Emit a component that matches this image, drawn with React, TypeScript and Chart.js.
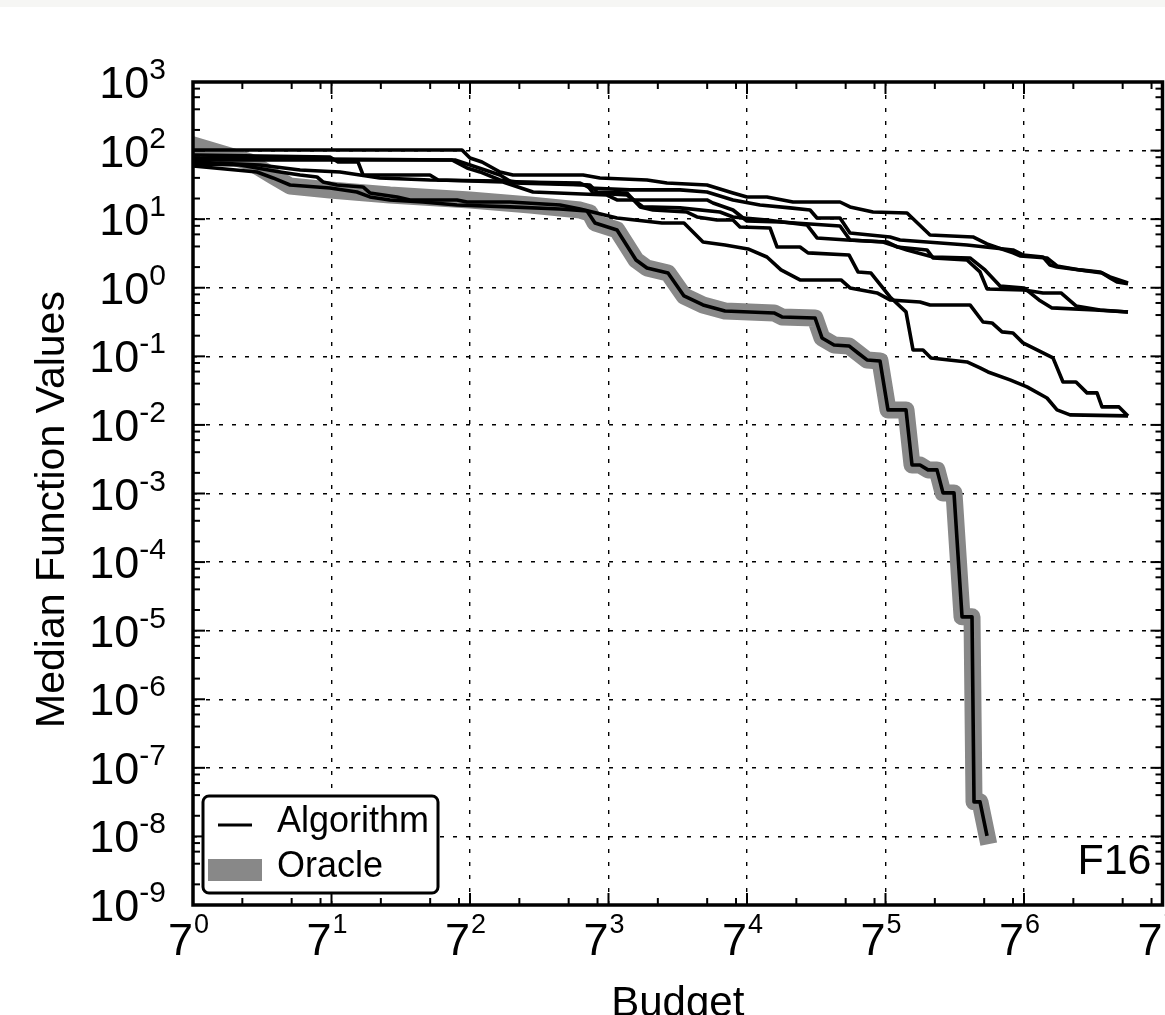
import React, { useEffect, useRef } from "react";
import { Chart, registerables } from "chart.js";

Chart.register(...registerables);

const FONT = "'Liberation Sans', Arial, Helvetica, sans-serif";

// ---------------- data (budget = function evaluations, value = median f) ----------------
const algoABudget = [1, 43.8, 49.0, 58.0, 74.7, 89.7, 240, 304, 589, 780, 1368, 1972, 2400, 3177, 4581, 8872, 10210, 14100, 22750, 31410, 57430, 69980, 100800, 111200, 162500, 187100, 258300, 352200, 393900, 434500, 507200];
const algoAValue = [102, 102, 78.0, 68.2, 48.8, 44.1, 44.1, 39.9, 37.3, 33.7, 31.5, 24.1, 21.1, 21.1, 17.8, 17.8, 15.1, 12.7, 12.3, 5.88, 5.5, 4.35, 3.22, 2.91, 2.72, 2.08, 1.82, 1.64, 1.39, 1.21, 1.14];

const algoBBudget = [1, 38.0, 47.0, 56.4, 74.7, 94.8, 230, 264, 464, 937, 1368, 1972, 2882, 4395, 5821, 6420, 8872, 10210, 17910, 20610, 30110, 52820, 100800, 116000, 153700, 169500, 187100, 258300, 342200, 393900, 507200];
const algoBValue = [72.9, 72.9, 55.8, 48.8, 37.3, 34.9, 33.7, 28.5, 26.7, 26.7, 24.9, 19.05, 16.1, 14.6, 13.6, 10.4, 10.4, 6.29, 5.5, 4.98, 4.65, 4.21, 3.56, 3.01, 2.81, 2.15, 2.01, 1.82, 1.7, 1.44, 1.17];

const algoCBudget = [1, 6.85, 7.67, 10.16, 10.9, 27.9, 31.3, 77.9, 118.8, 335.8, 386.6, 1368, 1489, 1972, 2400, 3817, 8872, 10210, 16230, 22750, 32760, 55090, 68020, 84010, 117700, 145200, 174300, 319000, 507200];
const algoCValue = [86.3, 80.7, 68.2, 68.2, 44.1, 44.1, 37.3, 34.9, 24.9, 22.5, 19.05, 19.05, 17.2, 13.6, 9.41, 9.1, 7.96, 4.98, 4.65, 3.56, 2.81, 2.72, 1.82, 1.06, 0.993, 0.664, 0.508, 0.475, 0.444];

const algoDBudget = [1, 39.7, 49.0, 74.7, 89.7, 253.6, 275.9, 444.8, 557, 937, 1643, 1972, 3177, 5579, 6420, 9786, 17160, 19760, 30110, 32760, 52820, 63410, 69980, 117700, 153700, 197900, 244300, 342200, 507200];
const algoDValue = [78.0, 72.9, 61.7, 44.1, 33.7, 31.5, 24.1, 22.5, 15.1, 14.6, 12.7, 10.77, 9.73, 8.23, 5.32, 4.98, 4.65, 3.93, 3.56, 2.72, 2.54, 1.7, 0.961, 0.929, 0.84, 0.84, 0.543, 0.475, 0.444];

const algoEBudget = [1, 2.56, 4.5, 7.89, 13.8, 27.9, 74.7, 264, 291.9, 444.8, 534, 641, 1033, 1189, 1575, 1972, 2176, 3317, 3660, 5056, 5657, 10060, 11420, 13710, 15340, 17910, 22420, 24740, 28470, 31850, 52820, 63410, 70960, 96650, 122700, 162500, 187100, 224600, 507200];
const algoEValue = [68.2, 61.7, 52.1, 48.8, 39.9, 37.3, 36.1, 31.5, 24.9, 24.1, 15.1, 13.6, 12.7, 10.77, 9.73, 9.73, 7.7, 7.44, 3.93, 3.93, 3.22, 3.01, 1.7, 1.64, 1.17, 0.734, 0.444, 0.124, 0.124, 0.0948, 0.0829, 0.0678, 0.0592, 0.0453, 0.0358, 0.0247, 0.01655, 0.01399, 0.01353];

const algoFBudget = [1, 1.936, 2.458, 3.4, 4.5, 5.71, 6.21, 7.56, 10.9, 12.0, 17.6, 21.1, 40.8, 47.0, 86.0, 173.6, 230, 386.6, 727, 990.8, 1294, 1763, 2435, 3177, 3871, 5056, 8995, 10210, 14920, 17910, 27290, 31410, 55090, 66140, 75060, 86390, 100800, 116000, 153700, 176800, 203500, 244300, 285100, 328100, 352000, 447000, 507200];
const algoFValue = [63.8, 61.7, 55.8, 48.8, 44.1, 41.2, 34.9, 31.5, 29.5, 24.1, 21.1, 19.05, 19.05, 17.8, 17.8, 16.1, 14.1, 10.4, 8.8, 8.8, 4.65, 4.21, 3.68, 2.81, 1.82, 1.3, 1.3, 0.993, 0.84, 0.664, 0.621, 0.561, 0.561, 0.317, 0.307, 0.227, 0.219, 0.157, 0.112, 0.0948, 0.0423, 0.0423, 0.0293, 0.0293, 0.0183, 0.0183, 0.01353];

const algoGBudget = [1, 2.458, 3.077, 3.91, 6.85, 10.0, 12.0, 15.9, 25.3, 40.8, 86.0, 173.6, 253.6, 283.8, 386.6, 504.9, 589, 791.5, 990.8, 1294, 1763, 3509, 3926, 6243, 6887, 8152, 10060, 11420, 12960, 15560, 17410, 22420, 24390, 27290, 30530, 34650, 37710, 44000, 49260, 56670, 58290, 63410, 69980];
const algoGValue = [59.6, 48.8, 39.9, 31.5, 28.5, 24.9, 21.1, 19.05, 17.8, 16.1, 15.1, 14.1, 13.2, 8.8, 6.96, 2.54, 1.94, 1.64, 0.759, 0.561, 0.459, 0.429, 0.375, 0.363, 0.1855, 0.1466, 0.1418, 0.112, 0.0886, 0.0857, 0.01655, 0.01655, 0.00261, 0.00261, 0.00221, 0.00221, 0.00102, 0.00102, 1.59e-5, 1.59e-5, 3.19e-8, 3.19e-8, 1.02e-8];

const oracleBudget = [1, 2.227, 3.077, 3.91, 6.85, 15.9, 49.0, 113.9, 230, 264, 283.8, 386.6, 504.9, 589, 791.5, 990.8, 1294, 1763, 3509, 3926, 6243, 6887, 8152, 10060, 11420, 12960, 15560, 17410, 22420, 24390, 27290, 30530, 34650, 37710, 44000, 49260, 56670, 58290, 63410, 69980];
const oracleValue = [120.7, 68.2, 42.6, 30.4, 26.7, 22.5, 19.05, 16.1, 13.6, 12.3, 8.8, 6.96, 2.54, 1.94, 1.64, 0.759, 0.561, 0.459, 0.429, 0.375, 0.363, 0.1855, 0.1466, 0.1418, 0.112, 0.0886, 0.0857, 0.01655, 0.01655, 0.00261, 0.00261, 0.00221, 0.00221, 0.00102, 0.00102, 1.59e-5, 1.59e-5, 3.19e-8, 3.19e-8, 1.02e-8];

const algorithmSeries = [
  [algoABudget, algoAValue],
  [algoBBudget, algoBValue],
  [algoCBudget, algoCValue],
  [algoDBudget, algoDValue],
  [algoEBudget, algoEValue],
  [algoFBudget, algoFValue],
  [algoGBudget, algoGValue],
];

// ---------------- axes / text ----------------
const xBase = 7;
const xTickExponents = [0, 1, 2, 3, 4, 5, 6, 7];
const xMinorMultipliers = [2, 4, 6];
const yBase = 10;
const yTickExponents = [3, 2, 1, 0, -1, -2, -3, -4, -5, -6, -7, -8, -9];
const yMinorMultipliers = [2, 4, 6, 8];
const xAxisTitle = "Budget";
const yAxisTitle = "Median Function Values";
const panelLabel = "F16";
const algorithmLabel = "Algorithm";
const oracleLabel = "Oracle";

const BLACK = "#000000";
const GREY = "#888888";

const toPoints = (b: number[], v: number[]) => b.map((x, i) => ({ x, y: v[i] }));

const decorPlugin = {
  id: "decor",
  afterDatasetsDraw(chart: any) {
    const { ctx, chartArea: a, scales } = chart;
    const xs = scales.x;
    const ys = scales.y;
    const MAJOR = 12;
    const MINOR = 7;
    ctx.save();
    ctx.strokeStyle = BLACK;
    ctx.fillStyle = BLACK;
    ctx.lineCap = "butt";
    const seg = (x1: number, y1: number, x2: number, y2: number) => {
      ctx.beginPath();
      ctx.moveTo(x1, y1);
      ctx.lineTo(x2, y2);
      ctx.stroke();
    };
    ctx.lineWidth = 2;
    // x ticks
    xTickExponents.forEach((e) => {
      const v = Math.pow(xBase, e);
      const p = xs.getPixelForValue(v);
      seg(p, a.bottom, p, a.bottom - MAJOR);
      seg(p, a.top, p, a.top + MAJOR);
      xMinorMultipliers.forEach((m) => {
        const mv = m * v;
        if (mv >= xs.max) return;
        const q = xs.getPixelForValue(mv);
        seg(q, a.bottom, q, a.bottom - MINOR);
        seg(q, a.top, q, a.top + MINOR);
      });
    });
    // y ticks
    yTickExponents.forEach((e) => {
      const v = Math.pow(yBase, e);
      const p = ys.getPixelForValue(v);
      seg(a.left, p, a.left + MAJOR, p);
      seg(a.right, p, a.right - MAJOR, p);
      yMinorMultipliers.forEach((m) => {
        const mv = m * v;
        if (mv >= ys.max) return;
        const q = ys.getPixelForValue(mv);
        seg(a.left, q, a.left + MINOR, q);
        seg(a.right, q, a.right - MINOR, q);
      });
    });
    // frame
    ctx.lineWidth = 3.5;
    ctx.strokeRect(a.left, a.top, a.right - a.left, a.bottom - a.top);

    // tick labels
    const baseFont = `45px ${FONT}`;
    const yExpFont = `30px ${FONT}`;
    const xExpFont = `27px ${FONT}`;
    ctx.textAlign = "left";
    ctx.textBaseline = "alphabetic";
    yTickExponents.forEach((e) => {
      const p = ys.getPixelForValue(Math.pow(yBase, e));
      const b = String(yBase);
      const ex = String(e);
      ctx.font = baseFont;
      const wb = ctx.measureText(b).width;
      ctx.font = yExpFont;
      const we = ctx.measureText(ex).width;
      const right = a.left - 27;
      ctx.font = baseFont;
      ctx.fillText(b, right - we - wb, p + 16);
      ctx.font = yExpFont;
      ctx.fillText(ex, right - we, p - 3);
    });
    xTickExponents.forEach((e) => {
      const p = xs.getPixelForValue(Math.pow(xBase, e));
      const b = String(xBase);
      const ex = String(e);
      ctx.font = baseFont;
      const wb = ctx.measureText(b).width;
      ctx.font = xExpFont;
      const we = ctx.measureText(ex).width;
      const start = p - 5 - (wb + we) / 2;
      ctx.font = baseFont;
      ctx.fillText(b, start, a.bottom + 50);
      ctx.font = xExpFont;
      ctx.fillText(ex, start + wb + 1, a.bottom + 28);
    });

    // axis titles
    ctx.font = `42px ${FONT}`;
    ctx.textAlign = "center";
    ctx.fillText(xAxisTitle, (a.left + a.right) / 2, a.bottom + 111);
    ctx.save();
    ctx.translate(64, (a.top + a.bottom) / 2 + 16);
    ctx.rotate(-Math.PI / 2);
    ctx.font = `41px ${FONT}`;
    ctx.fillText(yAxisTitle, 0, 0);
    ctx.restore();

    // panel label
    ctx.font = `43px ${FONT}`;
    ctx.textAlign = "right";
    ctx.fillText(panelLabel, a.right - 11, a.bottom - 31);

    // legend
    const lx = a.left + 10;
    const ly = a.bottom - 109;
    const lw = 235;
    const lh = 97;
    ctx.beginPath();
    if ((ctx as any).roundRect) (ctx as any).roundRect(lx, ly, lw, lh, 6);
    else ctx.rect(lx, ly, lw, lh);
    ctx.fillStyle = "#ffffff";
    ctx.fill();
    ctx.lineWidth = 3;
    ctx.strokeStyle = BLACK;
    ctx.stroke();
    ctx.lineWidth = 3.2;
    seg(lx + 15, ly + 29, lx + 49, ly + 29);
    ctx.fillStyle = GREY;
    ctx.fillRect(lx + 5, ly + 63, 54, 22);
    ctx.fillStyle = BLACK;
    ctx.font = `36px ${FONT}`;
    ctx.textAlign = "left";
    ctx.fillText(algorithmLabel, lx + 74, ly + 36);
    ctx.fillText(oracleLabel, lx + 74, ly + 81);
    ctx.restore();
  },
};

export default function App() {
  const ref = useRef<HTMLCanvasElement | null>(null);
  useEffect(() => {
    if (!ref.current) return;
    const datasets: any[] = algorithmSeries.map(([b, v]) => ({
      label: algorithmLabel,
      data: toPoints(b as number[], v as number[]),
      borderColor: BLACK,
      borderWidth: 3.6,
      pointRadius: 0,
      tension: 0,
      fill: false,
      order: 0,
      borderJoinStyle: "round",
    }));
    datasets.push({
      label: oracleLabel,
      data: toPoints(oracleBudget, oracleValue),
      borderColor: GREY,
      borderWidth: 17,
      pointRadius: 0,
      tension: 0,
      fill: false,
      order: 5,
      borderJoinStyle: "round",
      borderCapStyle: "square",
    });
    const chart = new Chart(ref.current, {
      type: "line",
      data: { datasets },
      options: {
        animation: false,
        responsive: false,
        devicePixelRatio: 1,
        layout: { padding: { left: 193, right: 2.5, top: 82, bottom: 110 } },
        plugins: { legend: { display: false }, tooltip: { enabled: false } },
        scales: {
          x: {
            type: "logarithmic",
            min: 1,
            max: Math.pow(xBase, 7),
            afterBuildTicks: (s: any) => {
              s.ticks = xTickExponents.map((e) => ({ value: Math.pow(xBase, e) }));
            },
            ticks: { display: false },
            grid: { color: BLACK, lineWidth: 1.4, drawTicks: false },
            border: { display: false, dash: [4, 9] },
          },
          y: {
            type: "logarithmic",
            min: 1e-9,
            max: 1e3,
            afterBuildTicks: (s: any) => {
              s.ticks = yTickExponents.map((e) => ({ value: Math.pow(yBase, e) }));
            },
            ticks: { display: false },
            grid: { color: BLACK, lineWidth: 1.4, drawTicks: false },
            border: { display: false, dash: [4, 9] },
          },
        },
      },
      plugins: [decorPlugin],
    } as any);
    return () => chart.destroy();
  }, []);
  return (
    <div>
      <div style={{ position: "absolute", left: 0, top: 0, width: 1165, height: 7, background: "#f6f6f4" }} />
      <canvas
        ref={ref}
        width={1165}
        height={1015}
        style={{ position: "absolute", left: 0, top: 0, width: 1165, height: 1015, display: "block" }}
      />
    </div>
  );
}
